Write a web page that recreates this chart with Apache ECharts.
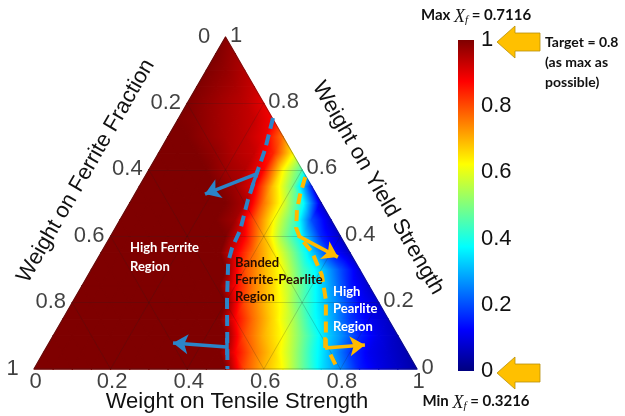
<!DOCTYPE html>
<html>
<head>
<meta charset="utf-8">
<script src="https://cdn.jsdelivr.net/npm/echarts@6/dist/echarts.min.js"></script>
<style>
html,body{margin:0;padding:0;background:#fff;}
#main{width:625px;height:416px;}
</style>
</head>
<body>
<div id="main"></div>
<script>
// normalised ferrite fraction, grid step 0.05
// row j -> weight on yield strength = j*0.05, entry k -> weight on tensile strength = k*0.05
var fieldStep = 0.05;
var fieldRows = [
  [1,1,1,1,1,1,1,1,1,1,1,0.8,0.7,0.62,0.48,0.35,0.26,0.15,0.1,0.07,0.04],
  [1,1,1,1,1,1,1,1,1,1.03,0.88,0.76,0.67,0.55,0.41,0.3,0.18,0.11,0.08,0.05],
  [1,1,1,1,1,1,1,1,1,1,0.8,0.7,0.62,0.49,0.36,0.27,0.16,0.1,0.06],
  [1,1,1,1,1,1,1,1,1.03,0.88,0.76,0.66,0.55,0.4,0.3,0.18,0.11,0.07],
  [1,1,1,1,1,1,1,1,1,0.8,0.7,0.61,0.46,0.34,0.24,0.13,0.08],
  [1,1,1,1,1,1,1,1.03,0.88,0.75,0.66,0.54,0.4,0.28,0.15,0.08],
  [1,1,1,1,1,1,1,1,0.8,0.7,0.61,0.45,0.33,0.2,0.09],
  [1,1,1,1,1,1,1.03,0.9,0.76,0.65,0.5,0.33,0.16,0.07],
  [1,1,1,1,1,1,1,0.88,0.7,0.52,0.36,0.16,0.07],
  [1,1,1,1,1,1,0.97,0.8,0.63,0.47,0.2,0.08],
  [1,1,1,1,1,1,0.96,0.76,0.6,0.4,0.08],
  [1,1,1,1,1,0.97,0.9,0.68,0.5,0.15],
  [1,1,1,1,0.97,0.95,0.87,0.63,0.45],
  [1,1,1,0.98,0.95,0.93,0.84,0.64],
  [1,1,0.98,0.96,0.94,0.9,0.76],
  [1,0.99,0.97,0.95,0.93,0.88],
  [1,0.98,0.96,0.94,0.9],
  [1,0.98,0.96,0.93],
  [1,0.98,0.95],
  [1,0.97],
  [0.99]
];
var tickValues = [0, 0.2, 0.4, 0.6, 0.8, 1];
var gridValues = [0.2, 0.4, 0.6, 0.8];
// jet colormap, stops at 0, 1/8, ... 1
var jetColors = ['#00007f','#0000ff','#007fff','#00ffff','#7fff7f','#ffff00','#ff7f00','#ff0000','#7f0000'];

// annotation paths, [tensile, yield] weights
var blueBoundary = [[0.246,0.756],[0.273,0.660],[0.285,0.599],[0.304,0.509],[0.329,0.419],[0.335,0.364],[0.346,0.322],[0.400,0.208],[0.505,0]];
var orangeBoundary = [[0.419,0.578],[0.4325,0.524],[0.447,0.479],[0.472,0.425],[0.497,0.395],[0.550,0.352],[0.610,0.283],[0.658,0.208],[0.726,0.072],[0.79,0.003]];
var blueArrows = [[[0.286,0.587],[0.183,0.527]], [[0.471,0.066],[0.324,0.078]]];
var blueBars = [[[0.285,0.599],[0.295,0.548]], [[0.4575,0.093],[0.483,0.042]]];
var orangeArrows = [[[0.489,0.401],[0.625,0.337]], [[0.728,0.063],[0.828,0.072]]];
var orangeBars = [[[0.712,0.096],[0.728,0.063]]];

var maxXf = '0.7116', minXf = '0.3216', targetXf = '0.8';

var H = Math.sqrt(3) / 2;
function tern(t, y) { return [t + y / 2, y * H]; }
function path(pts) { return pts.map(function (p) { return tern(p[0], p[1]); }); }

function hex(c) { return [parseInt(c.substr(1,2),16), parseInt(c.substr(3,2),16), parseInt(c.substr(5,2),16)]; }
function jetAt(v) {
  v = Math.max(0, Math.min(1, v));
  var s = v * 8, i = Math.floor(s);
  if (i >= 8) return jetColors[8];
  var a = hex(jetColors[i]), b = hex(jetColors[i+1]), f = s - i;
  return 'rgb(' + [0,1,2].map(function (n) { return Math.round(a[n] + (b[n]-a[n]) * f); }).join(',') + ')';
}

// exact linear shading of one triangle: gradient along the value gradient, stops at jet breakpoints
function cellFill(p, v) {
  var ax = p[1][0]-p[0][0], ay = p[1][1]-p[0][1], bx = p[2][0]-p[0][0], by = p[2][1]-p[0][1];
  var d1 = v[1]-v[0], d2 = v[2]-v[0];
  var det = ax*by - ay*bx;
  var vmin = Math.min(v[0],v[1],v[2]), vmax = Math.max(v[0],v[1],v[2]);
  if (vmax - vmin < 1e-6 || Math.abs(det) < 1e-9) return jetAt(v[0]);
  var gx = (d1*by - ay*d2) / det, gy = (ax*d2 - bx*d1) / det;
  var g2 = gx*gx + gy*gy;
  var x0 = p[0][0] + gx*(vmin-v[0])/g2, y0 = p[0][1] + gy*(vmin-v[0])/g2;
  var x1 = p[0][0] + gx*(vmax-v[0])/g2, y1 = p[0][1] + gy*(vmax-v[0])/g2;
  var stops = [{offset:0, color:jetAt(vmin)}];
  for (var b = 0; b <= 8; b++) {
    var w = b / 8;
    if (w > vmin && w < vmax) stops.push({offset:(w-vmin)/(vmax-vmin), color:jetColors[b]});
  }
  stops.push({offset:1, color:jetAt(vmax)});
  return new echarts.graphic.LinearGradient(x0, y0, x1, y1, stops, true);
}

function cellOf(nodes) {
  var out = [];
  nodes.forEach(function (n) {
    var c = tern(n[0]*fieldStep, n[1]*fieldStep);
    out.push(c[0], c[1], n[2]);
  });
  return out;
}
var cells = [];
for (var j = 0; j < fieldRows.length - 1; j++) {
  var row = fieldRows[j], up = fieldRows[j+1];
  for (var k = 0; k < row.length - 1; k++) {
    cells.push(cellOf([[k,j,row[k]],[k+1,j,row[k+1]],[k,j+1,up[k]]]));
    if (k < up.length - 1) cells.push(cellOf([[k+1,j,row[k+1]],[k+1,j+1,up[k+1]],[k,j+1,up[k]]]));
  }
}

function renderCell(params, api) {
  var p = [], v = [];
  for (var i = 0; i < 3; i++) {
    p.push(api.coord([api.value(i*3), api.value(i*3+1)]));
    v.push(api.value(i*3+2));
  }
  var fill = cellFill(p, v);
  return {type:'polygon', shape:{points:p}, style:{fill:fill, stroke:fill, lineWidth:1.3, lineJoin:'round'}};
}

var gridSegs = [];
gridValues.forEach(function (g) {
  gridSegs.push({coords:[tern(g,0), tern(g,1-g)]});
  gridSegs.push({coords:[tern(0,g), tern(1-g,g)]});
  gridSegs.push({coords:[tern(1-g,0), tern(0,1-g)]});
});
var outline = [{coords:[tern(0,0), tern(1,0), tern(0,1), tern(0,0)]}];

var blue = '#2B84C8', orange = '#FFBA00';
var labelFont = 'Liberation Sans';

function tickSeries(data, pos, align) {
  return {
    type:'scatter', xAxisIndex:0, yAxisIndex:0, symbolSize:1, silent:true, z:6,
    itemStyle:{color:'rgba(0,0,0,0)'},
    label:{show:true, position:pos, align:align, verticalAlign:'middle', fontSize:22, color:'#111', fontFamily:labelFont,
      formatter:function (p) { return p.value[2]; }},
    data:data
  };
}
var leftTicks = tickValues.map(function (f) { return tern(0, 1-f).concat(String(f)); });
var rightTicks = tickValues.map(function (y) { return tern(1-y, y).concat(String(y)); });
var bottomTicks = tickValues.map(function (t) { return tern(t, 0).concat(String(t)); });

var barStops = jetColors.map(function (c, i) { return {offset:1 - i/8, color:c}; }).reverse();

function solid(color) { return {color:color, width:3.5, opacity:1}; }

var chart = echarts.init(document.getElementById('main'));
var boldFont = 'Lato';
var option = {
  animation:false,
  backgroundColor:'#fff',
  grid:[
    {left:34, top:37, width:383, height:332},
    {left:458, top:40, width:16, height:331}
  ],
  xAxis:[
    {gridIndex:0, type:'value', min:0, max:1, show:false},
    {gridIndex:1, type:'category', data:['Xf'], show:false}
  ],
  yAxis:[
    {gridIndex:0, type:'value', min:0, max:H, show:false},
    {gridIndex:1, type:'value', min:0, max:1, interval:0.2, position:'right',
      axisLine:{show:false}, axisTick:{show:false}, splitLine:{show:false},
      axisLabel:{fontSize:22, color:'#111', margin:7, fontFamily:labelFont}}
  ],
  series:[
    {type:'custom', xAxisIndex:0, yAxisIndex:0, renderItem:renderCell, data:cells, silent:true, z:1},
    {type:'lines', coordinateSystem:'cartesian2d', xAxisIndex:0, yAxisIndex:0, silent:true, z:2,
      lineStyle:{color:'rgba(30,30,30,0.28)', width:0.7, opacity:1}, data:gridSegs},
    {type:'lines', coordinateSystem:'cartesian2d', polyline:true, silent:true, z:2,
      lineStyle:{color:'rgba(40,40,40,0.45)', width:0.8, opacity:1}, data:outline},
    {type:'lines', coordinateSystem:'cartesian2d', polyline:true, silent:true, z:4,
      lineStyle:{color:blue, width:4, type:[11,6], opacity:1}, data:[{coords:path(blueBoundary)}]},
    {type:'lines', coordinateSystem:'cartesian2d', polyline:true, silent:true, z:4,
      lineStyle:{color:orange, width:4, type:[11,6], opacity:1}, data:[{coords:path(orangeBoundary)}]},
    {type:'lines', coordinateSystem:'cartesian2d', silent:true, z:4, symbol:['none','arrow'], symbolSize:15,
      lineStyle:solid(blue), data:blueArrows.map(function (a) { return {coords:path(a)}; })},
    {type:'lines', coordinateSystem:'cartesian2d', silent:true, z:4,
      lineStyle:solid(blue), data:blueBars.map(function (a) { return {coords:path(a)}; })},
    {type:'lines', coordinateSystem:'cartesian2d', silent:true, z:4, symbol:['none','arrow'], symbolSize:15,
      lineStyle:solid(orange), data:orangeArrows.map(function (a) { return {coords:path(a)}; })},
    {type:'lines', coordinateSystem:'cartesian2d', silent:true, z:4,
      lineStyle:solid(orange), data:orangeBars.map(function (a) { return {coords:path(a)}; })},
    tickSeries(leftTicks, [-21, 0], 'center'),
    tickSeries(rightTicks, [5, -1], 'left'),
    tickSeries(bottomTicks, [2, 13], 'center'),
    {type:'bar', xAxisIndex:1, yAxisIndex:1, barWidth:'100%', silent:true, data:[1],
      itemStyle:{color:new echarts.graphic.LinearGradient(0, 0, 0, 1, barStops)}}
  ],
  graphic:[
    {type:'text', id:'titleT', x:237, y:402, style:{text:'Weight on Tensile Strength', fontSize:22, fontFamily:labelFont, fill:'#111', align:'center', verticalAlign:'middle'}},
    {type:'text', id:'titleF', x:86, y:171, rotation:Math.PI/3, style:{text:'Weight on Ferrite Fraction', fontSize:22, fontFamily:labelFont, fill:'#111', align:'center', verticalAlign:'middle'}},
    {type:'text', id:'titleY', x:378, y:188, rotation:-Math.PI/3, style:{text:'Weight on Yield Strength', fontSize:22, fontFamily:labelFont, fill:'#111', align:'center', verticalAlign:'middle'}},
    {type:'text', id:'regF', x:130, y:238, z:10, style:{text:'High Ferrite\nRegion', fontSize:13, fontWeight:'bold', fontFamily:boldFont, fill:'#fff', lineHeight:19}},
    {type:'text', id:'regB', x:235, y:254, z:10, style:{text:'Banded\nFerrite-Pearlite\nRegion', fontSize:13, fontWeight:'bold', fontFamily:boldFont, fill:'#2a0d00', lineHeight:17}},
    {type:'text', id:'regP', x:333, y:283, z:10, style:{text:'High\nPearlite\nRegion', fontSize:13, fontWeight:'bold', fontFamily:boldFont, fill:'#fff', lineHeight:17.5}},
    {type:'text', id:'maxT', x:476, y:17, z:10, style:{
      text:'{b|Max }{x|X}{s|f}{b| = ' + maxXf + '}', align:'center', verticalAlign:'middle',
      rich:{
        b:{fontSize:15, fontWeight:'bold', fontFamily:boldFont, fill:'#111', lineHeight:18, verticalAlign:'top'},
        x:{fontSize:18, fontStyle:'italic', fontFamily:'Liberation Serif', fill:'#111', lineHeight:18, verticalAlign:'top'},
        s:{fontSize:11, fontStyle:'italic', fontFamily:'Liberation Serif', fill:'#111', lineHeight:11, padding:[9,0,0,0], verticalAlign:'bottom'}
      }}},
    {type:'text', id:'minT', x:476, y:403, z:10, style:{
      text:'{b|Min }{x|X}{s|f}{b| = ' + minXf + '}', align:'center', verticalAlign:'middle',
      rich:{
        b:{fontSize:15, fontWeight:'bold', fontFamily:boldFont, fill:'#111', lineHeight:18, verticalAlign:'top'},
        x:{fontSize:18, fontStyle:'italic', fontFamily:'Liberation Serif', fill:'#111', lineHeight:18, verticalAlign:'top'},
        s:{fontSize:11, fontStyle:'italic', fontFamily:'Liberation Serif', fill:'#111', lineHeight:11, padding:[9,0,0,0], verticalAlign:'bottom'}
      }}},
    {type:'text', id:'target', x:545, y:32, z:10, style:{text:'Target = ' + targetXf + '\n(as max as\npossible)', fontSize:14, fontWeight:'bold', fontFamily:boldFont, fill:'#111', lineHeight:20}}
  ]
};
chart.setOption(option);

// orange block arrows pointing at the 1 and 0 labels of the colour bar
function blockArrow(id, yc) {
  var tip = 497, neck = 515, tail = 540, hh = 16, sh = 9;
  return {type:'polygon', id:id, z:10,
    shape:{points:[[tip,yc],[neck,yc-hh],[neck,yc-sh],[tail,yc-sh],[tail,yc+sh],[neck,yc+sh],[neck,yc+hh]]},
    style:{fill:'#FFC000', stroke:'#B8900A', lineWidth:0.8}};
}
var yOne = chart.convertToPixel({gridIndex:1}, [0, 1])[1];
var yZero = chart.convertToPixel({gridIndex:1}, [0, 0])[1];
chart.setOption({graphic:[blockArrow('arrTop', yOne + 2), blockArrow('arrBottom', yZero + 2)]});
</script>
</body>
</html>
